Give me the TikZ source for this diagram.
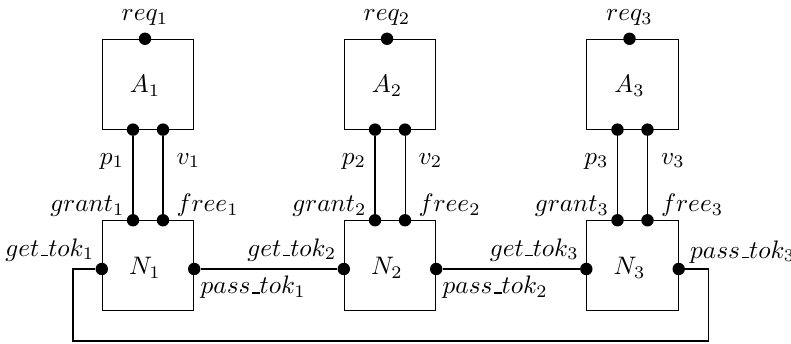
\documentclass[tikz,border=0pt]{standalone}
\usetikzlibrary{calc}
\newcommand{\uscore}{\mbox{\kern.06em\vbox{\hrule width.3em}}}
\begin{document}
\begin{tikzpicture}[x=0.395pt,y=-0.395pt,
  box/.style={draw, rectangle, inner sep=0pt, minimum width=36.1pt, minimum height=35.5pt},
  dot/.style={circle, fill=black, inner sep=0pt, minimum size=4.9pt},
  lab/.style={inner sep=0pt}]
\useasboundingbox (0,0) rectangle (791,343);
\foreach \i/\c in {1/148,2/390,3/632.5}{
  \node[box] (A\i) at (\c,84.2) {};
  \node[box] (N\i) at (\c,265.7) {};
  \node[lab] (At\i) at (\c-3,85.5) {$A_{\i}$};
  \node[lab] (Nt\i) at (\c-3,267.5) {$N_{\i}$};
  \node[dot] (req\i) at ($(A\i.north)+(-3,0)$) {};
  \node[dot] (p\i) at ($(A\i.south)+(-15,0)$) {};
  \node[dot] (v\i) at ($(A\i.south)+(15,0)$) {};
  \node[dot] (g\i) at ($(N\i.north)+(-15,0)$) {};
  \node[dot] (f\i) at ($(N\i.north)+(15,0)$) {};
  \node[dot] (gt\i) at ($(N\i.west)+(0,3.3)$) {};
  \node[dot] (pt\i) at ($(N\i.east)+(0,3.3)$) {};
  \draw (p\i) -- (g\i);
  \draw (v\i) -- (f\i);
  \node[lab, anchor=base] (reql\i) at ($(req\i)+(0,-17.8)$) {$req_{\i}$};
  \node[lab, anchor=base east] (pl\i) at ($(p\i)+(-8.5,34.5)$) {$p_{\i}$};
  \node[lab, anchor=base west] (vl\i) at ($(v\i)+(13,34.5)$) {$v_{\i}$};
  \node[lab, anchor=base east] (gl\i) at ($(g\i)+(-8,-8.5)$) {$grant_{\i}$};
  \node[lab, anchor=base west] (fl\i) at ($(f\i)+(13,-8.5)$) {$free_{\i}$};
  \node[lab, anchor=base east] (gtl\i) at ($(gt\i)+(-7,-13)$) {$get\uscore tok_{\i}$};
}
\node[lab, anchor=base west] (ptl1) at ($(pt1)+(6,24.5)$) {$pass\uscore tok_{1}$};
\node[lab, anchor=base west] (ptl2) at ($(pt2)+(6,24.5)$) {$pass\uscore tok_{2}$};
\node[lab, anchor=base west] (ptl3) at ($(pt3)+(11,-11)$) {$pass\uscore tok_{3}$};
\draw (pt1) -- (gt2);
\draw (pt2) -- (gt3);
\coordinate (loopR) at (708,341);
\coordinate (loopL) at (73,341);
\draw (pt3) -| (loopR) -- (loopL) |- (gt1);
\end{tikzpicture}
\end{document}
